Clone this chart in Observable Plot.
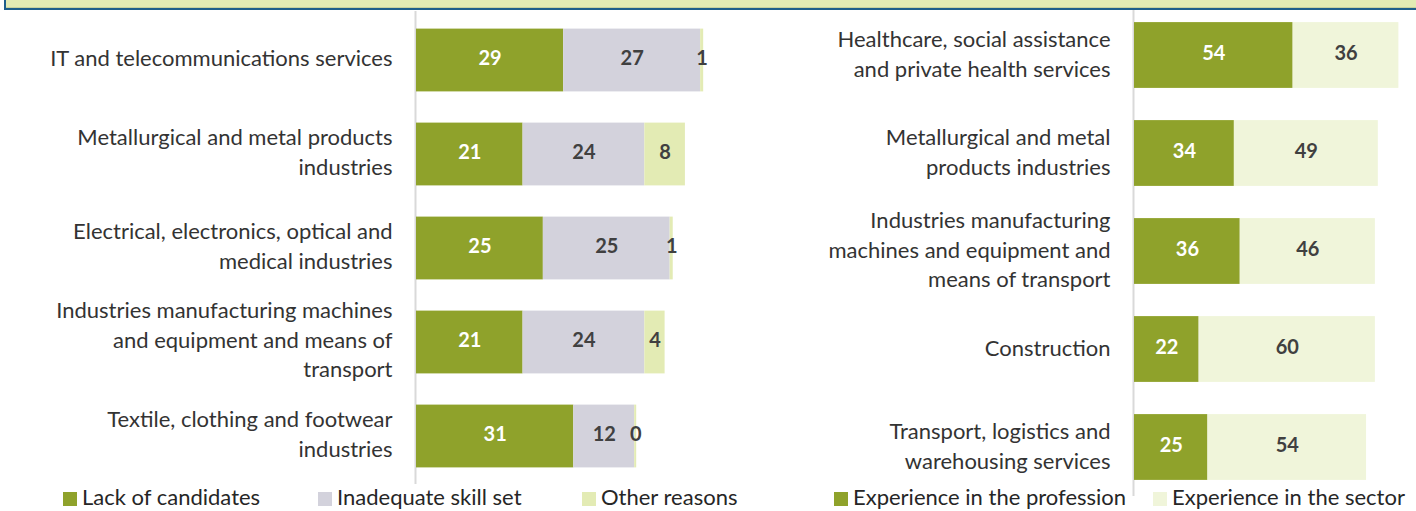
<!DOCTYPE html>
<html><head><meta charset="utf-8">
<script src="https://cdn.jsdelivr.net/npm/d3@7"></script>
<script src="https://cdn.jsdelivr.net/npm/@observablehq/plot@0.6"></script>
<style>
body{margin:0;background:#fff;font-family:Lato,sans-serif;}
#wrap{position:relative;width:1416px;height:511px;overflow:hidden;background:#fff;}
#banner{position:absolute;left:4px;top:-6px;width:1430px;height:14px;background:#e3ebb4;border-left:2px solid #1f5f8b;border-bottom:2px solid #1f5f8b;box-shadow:inset 0 -1px 0 #c8d29e;z-index:5;}
#left{position:absolute;left:0;top:0;}
#right{position:absolute;left:760px;top:0;}
.lg{position:absolute;top:485px;font-size:22px;color:#262626;white-space:nowrap;line-height:24px;}
.lg i{display:inline-block;width:14px;height:14px;margin-right:5px;vertical-align:-1px;}
</style></head>
<body><div id="wrap"><div id="banner"></div><div id="left"></div><div id="right"></div><div id="legend"></div></div>
<script>
// ---- Data ----
const leftCategories = ["IT and telecommunications services", "Metallurgical and metal products industries", "Electrical, electronics, optical and medical industries", "Industries manufacturing machines and equipment and means of transport", "Textile, clothing and footwear industries"];
const leftTickLabels = ["IT and telecommunications services", "Metallurgical and metal products\nindustries", "Electrical, electronics, optical and\nmedical industries", "Industries manufacturing machines\nand equipment and means of\ntransport", "Textile, clothing and footwear\nindustries"];
const leftSeries = ["Lack of candidates", "Inadequate skill set", "Other reasons"];
const lackOfCandidates = [29, 21, 25, 21, 31];
const inadequateSkillSet = [27, 24, 25, 24, 12];
const otherReasons = [0.6, 8, 0.6, 4, 0.4];

const rightCategories = ["Healthcare, social assistance and private health services", "Metallurgical and metal products industries", "Industries manufacturing machines and equipment and means of transport", "Construction", "Transport, logistics and warehousing services"];
const rightTickLabels = ["Healthcare, social assistance\nand private health services", "Metallurgical and metal\nproducts industries", "Industries manufacturing\nmachines and equipment and\nmeans of transport", "Construction", "Transport, logistics and\nwarehousing services"];
const rightSeries = ["Experience in the profession", "Experience in the sector"];
const experienceProfession = [54, 34, 36, 22, 25];
const experienceSector = [36, 49, 46, 60, 54];

const GREEN = "#8fa22b", GREY = "#d3d2dc", LIGHT = "#e3ebb4", PALE = "#f0f5da";

function panel({cats, ticks, series, values, colors, width, height, marginLeft, marginTop, xMax, inset, labelDy}) {
  const data = [];
  series.forEach((s, i) => cats.forEach((c, j) => data.push({category: c, series: s, value: values[i][j]})));
  const tickMap = new Map(cats.map((c, i) => [c, ticks[i]]));
  const fmt = d3.format(".0f");
  const stackText = () => Plot.stackX({x: "value", y: "category", z: "series", text: d => fmt(d.value)});
  return Plot.plot({
    width, height, marginLeft, marginRight: 0, marginTop, marginBottom: 0,
    x: {domain: [0, xMax], axis: null},
    y: {domain: cats, padding: 0, axis: null},
    color: {domain: series, range: colors},
    style: {fontFamily: "Lato, sans-serif", background: "transparent", overflow: "visible"},
    marks: [
      Plot.ruleX([0], {stroke: "#d9d9d9", strokeWidth: 2, dx: -1}),
      Plot.barX(data, Plot.stackX({x: "value", y: "category", fill: "series", insetTop: inset, insetBottom: inset})),
      Plot.axisY({label: null, tickSize: 0, tickPadding: 24, tickFormat: d => tickMap.get(d), fontSize: 22, lineHeight: 1.34, fill: "#333", dy: labelDy}),
      Plot.text(data, {...Plot.filter(d => d.series === series[0], stackText()), fill: "white", fontWeight: "bold", fontSize: 20, dy: -2}),
      Plot.text(data, {...Plot.filter(d => d.series !== series[0], stackText()), fill: "#404040", fontWeight: "bold", fontSize: 20, dy: -2})
    ]
  });
}

document.getElementById("left").append(panel({
  cats: leftCategories, ticks: leftTickLabels, series: leftSeries,
  values: [lackOfCandidates, inadequateSkillSet, otherReasons],
  colors: [GREEN, GREY, LIGHT],
  width: 760, height: 484, marginLeft: 416, marginTop: 11, xMax: 67.8, inset: 15.6, labelDy: -4
}));
document.getElementById("right").append(panel({
  cats: rightCategories, ticks: rightTickLabels, series: rightSeries,
  values: [experienceProfession, experienceSector],
  colors: [GREEN, PALE],
  width: 656, height: 496, marginLeft: 374, marginTop: 5, xMax: 96, inset: 16.1, labelDy: -3
}));

// legend
const legendItems = [
  {label: leftSeries[0], color: GREEN, left: 63},
  {label: leftSeries[1], color: GREY, left: 318},
  {label: leftSeries[2], color: LIGHT, left: 582},
  {label: rightSeries[0], color: GREEN, left: 834},
  {label: rightSeries[1], color: PALE, left: 1153}
];
const lg = document.getElementById("legend");
for (const it of legendItems) {
  const d = document.createElement("div");
  d.className = "lg";
  d.style.left = it.left + "px";
  d.innerHTML = `<i style="background:${it.color}"></i>`;
  d.append(document.createTextNode(it.label));
  lg.append(d);
}
</script></body></html>
